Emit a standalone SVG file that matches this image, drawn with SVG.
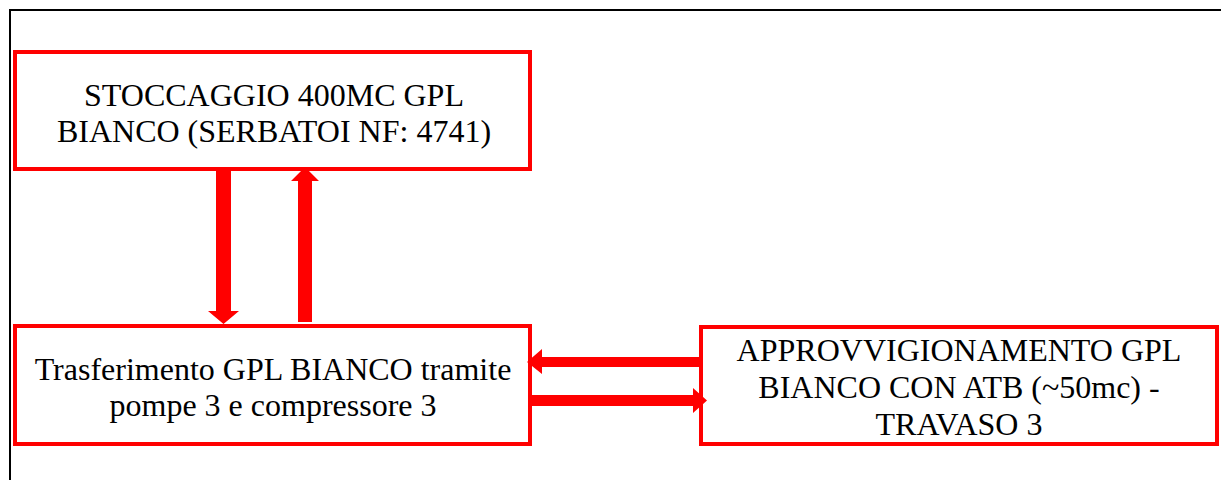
<svg xmlns="http://www.w3.org/2000/svg" width="1221" height="480" viewBox="0 0 1221 480">
  <style>
    .box { fill: #ffffff; stroke: #ff0000; stroke-width: 4; }
    .label { font-family: "Liberation Serif", "Times New Roman", serif; font-size: 32px; fill: #000000; text-anchor: middle; }
    .flow { fill: #ff0000; stroke: none; }
    .frame { fill: none; stroke: #000000; stroke-width: 2; }
  </style>

  <!-- page frame -->
  <path class="frame" d="M10,480 V10 H1221"/>

  <!-- storage node -->
  <g id="stoccaggio">
    <rect class="box" x="15" y="52" width="515" height="117"/>
    <text class="label" x="274" y="106">STOCCAGGIO 400MC GPL</text>
    <text class="label" x="274" y="142">BIANCO (SERBATOI NF: 4741)</text>
  </g>

  <!-- transfer node -->
  <g id="trasferimento">
    <rect class="box" x="15" y="326" width="515" height="118"/>
    <text class="label" x="273" y="380">Trasferimento GPL BIANCO tramite</text>
    <text class="label" x="273" y="416">pompe 3 e compressore 3</text>
  </g>

  <!-- supply node -->
  <g id="approvvigionamento">
    <rect class="box" x="701" y="327" width="516" height="117"/>
    <text class="label" x="959" y="361">APPROVVIGIONAMENTO GPL</text>
    <text class="label" x="959" y="398">BIANCO CON ATB (~50mc) -</text>
    <text class="label" x="959" y="435">TRAVASO 3</text>
  </g>

  <!-- block arrows between nodes -->
  <g id="connectors">
    <!-- storage to transfer (down) -->
    <polygon class="flow" points="216,171 231,171 231,311 239,311 223.5,324 208,311 216,311"/>
    <!-- transfer to storage (up) -->
    <polygon class="flow" points="298,322 312,322 312,181 319,181 305,167 291,181 298,181"/>
    <!-- supply to transfer (left) -->
    <polygon class="flow" points="699,357 699,367 542,367 542,374 527,362 542,349 542,357"/>
    <!-- transfer to supply (right) -->
    <polygon class="flow" points="532,395 532,406 693,406 693,413 707,400.5 693,388 693,395"/>
  </g>
</svg>
